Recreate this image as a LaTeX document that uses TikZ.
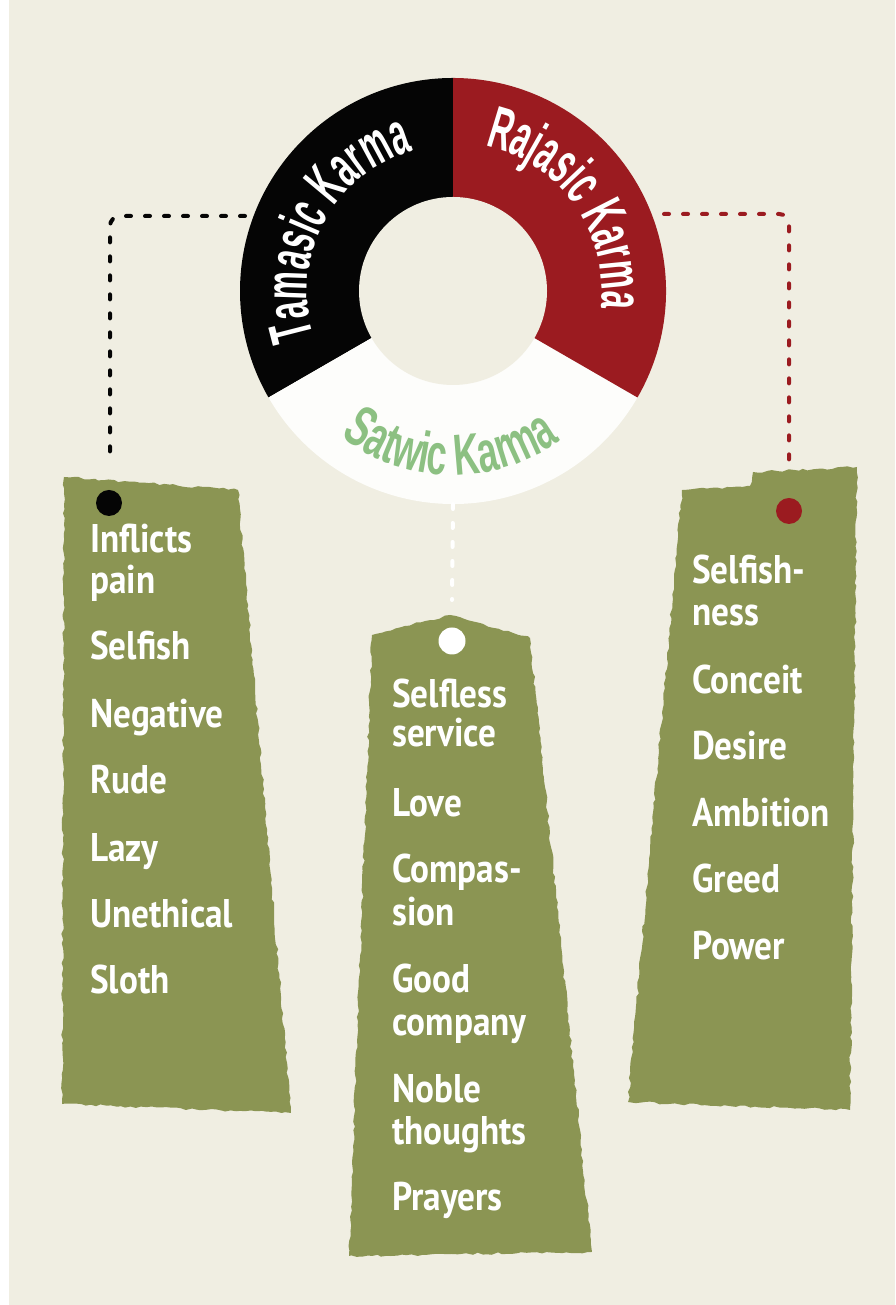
\documentclass[tikz,border=0pt]{standalone}
\usepackage{fontspec}
\usetikzlibrary{decorations.text,decorations.pathmorphing}

\definecolor{paper}{RGB}{240,238,226}
\definecolor{tamas}{RGB}{5,5,5}
\definecolor{rajas}{RGB}{155,27,32}
\definecolor{satva}{RGB}{253,253,251}
\definecolor{satgreen}{RGB}{140,192,130}
\definecolor{olive}{RGB}{139,149,83}

\newfontfamily\ringfont[FakeStretch=0.53]{Liberation Sans}
\newfontfamily\satfont[FakeStretch=0.62]{Liberation Sans}
\newfontfamily\tagfont[FakeStretch=0.88]{PT Sans}

\tikzset{
  tag/.style={fill=olive, decorate, decoration={random steps,segment length=5pt,amplitude=1.2pt}},
  item/.style={anchor=base west, inner sep=0pt, text=white, font=\tagfont\bfseries\fontsize{40}{41}\selectfont},
  dotline/.style={line width=4pt, line cap=round, dash pattern=on 5pt off 14pt, rounded corners=10pt},
  hole/.style={circle, inner sep=0pt, minimum size=#1},
  ringtext/.style={decorate, decoration={text along path, text align=center, text={#1}}},
}

\begin{document}
\begin{tikzpicture}[x=1pt,y=1pt]%three karmas
\useasboundingbox (0,0) rectangle (895,1305);
\fill[paper] (0,0) rectangle (895,1305);
\fill[white] (0,0) rectangle (9,1305);

% ring
\coordinate (ring) at (453,1014);
\fill[tamas] (ring) -- ++(90:213) arc[start angle=90,end angle=210,radius=213] -- cycle;
\fill[satva] (ring) -- ++(210:213) arc[start angle=210,end angle=330,radius=213] -- cycle;
\fill[rajas] (ring) -- ++(-30:213) arc[start angle=-30,end angle=90,radius=213] -- cycle;
\fill[paper] (ring) circle[radius=94];

\path[ringtext={|\ringfont\bfseries\fontsize{60}{60}\selectfont\color{white}|Tamasic Karma}]
  ([shift={(205:146)}]ring) arc[start angle=205,end angle=99,radius=146];
\path[ringtext={|\ringfont\bfseries\fontsize{60}{60}\selectfont\color{white}|Rajasic Karma}]
  ([shift={(90:149)}]ring) arc[start angle=90,end angle=-19,radius=149];
\path[ringtext={|\satfont\bfseries\fontsize{58}{58}\selectfont\color{satgreen}|Satwic Karma}]
  ([shift={(220:184)}]ring) arc[start angle=220,end angle=318,radius=184];

% tags
\fill[tag] (64,828) -- (238,815) -- (291,192) -- (62,201) -- cycle;
\fill[tag] (349,49) -- (372,670) -- (450,690) -- (530,667) -- (592,53) -- cycle;
\fill[tag] (628,203) -- (682,815) -- (750,819) -- (753,833) -- (857,838) -- (850,195) -- cycle;

\node[hole=26, fill=tamas] (tamasDot) at (109,802) {};
\node[hole=27, fill=white] (satvaDot) at (452,664) {};
\node[hole=26, fill=rajas] (rajasDot) at (789,794) {};

% strings
\coordinate (tamasOut) at (245,1089);
\coordinate (tamasEnd) at (110,843);
\coordinate (rajasOut) at (664,1091);
\coordinate (rajasEnd) at (789,843);
\coordinate (satvaOut) at (453,801);
\coordinate (satvaEnd) at (452,705);
\draw[dotline, tamas] (tamasOut) -| (tamasEnd);
\draw[dotline, rajas] (rajasOut) -| (rajasEnd);
\draw[dotline, white] (satvaOut) -- (satvaEnd);

\foreach \y/\t [count=\i] in {752/Inflicts, 711/pain, 645/Selfish, 577/Negative,
    511/Rude, 443/Lazy, 377/Unethical, 311/Sloth}
  \node[item] (tamas\i) at (90,\y) {\t};
\foreach \y/\t [count=\i] in {597/Selfless, 558/service, 488/Love, 422/Compas-,
    379/sion, 312/Good, 269/company, 202/Noble, 160/thoughts, 94/Prayers}
  \node[item] (satva\i) at (392,\y) {\t};
\foreach \y/\t [count=\i] in {721/Selfish-, 679/ness, 611/Conceit, 545/Desire,
    478/Ambition, 412/Greed, 345/Power}
  \node[item] (rajas\i) at (692,\y) {\t};
\end{tikzpicture}
\end{document}
